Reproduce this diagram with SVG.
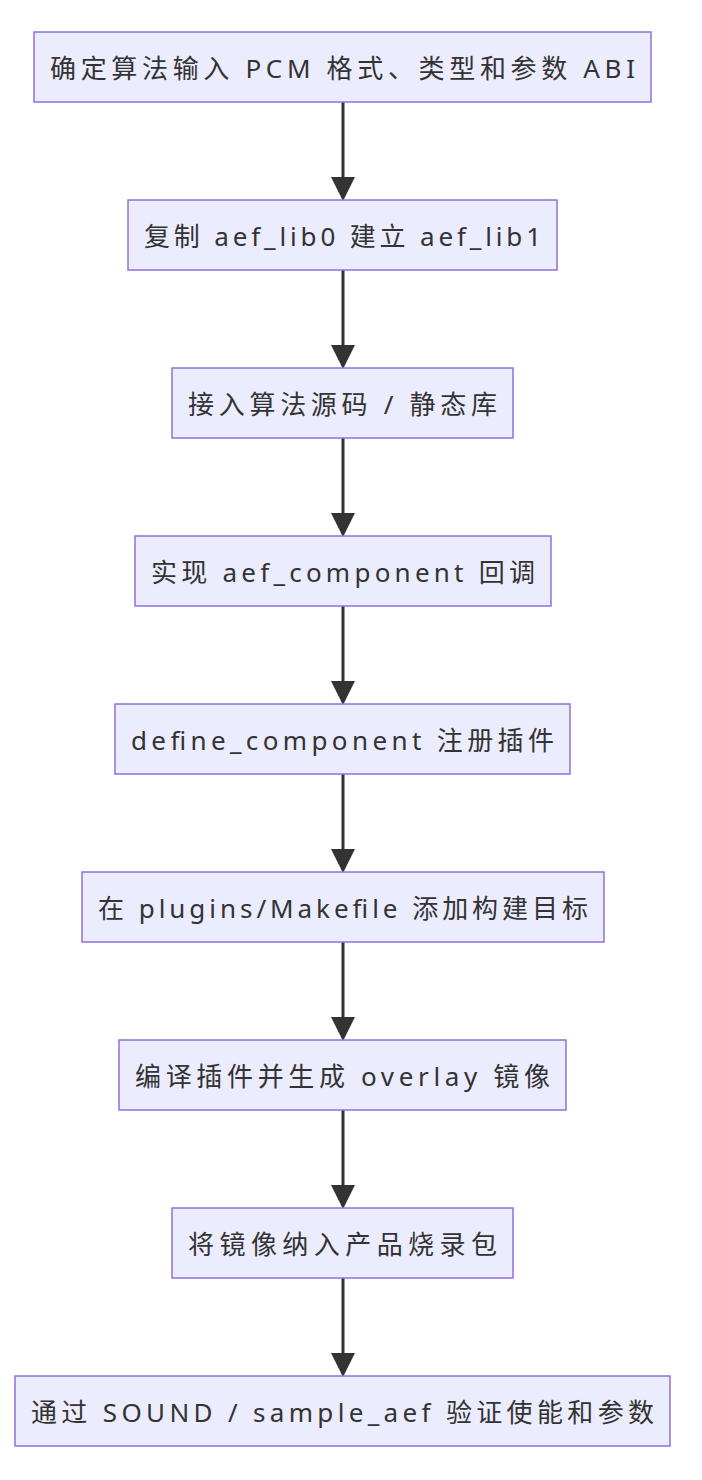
<svg xmlns="http://www.w3.org/2000/svg" width="702" height="1480" viewBox="0 0 702 1480">
<style>
.n rect{fill:#ECECFF;stroke:#9370DB;stroke-width:1.5}
.n text{font-family:"Noto Sans","Noto Sans CJK SC",sans-serif;font-size:26px;fill:#333;text-anchor:middle;dominant-baseline:central}
.e line{stroke:#333;stroke-width:3}
</style>
<defs><marker id="a" markerWidth="8" markerHeight="8" refX="7" refY="4" orient="auto" markerUnits="strokeWidth"><path d="M0,0L8,4L0,8z" fill="#333"/></marker></defs>
<g class="e">
<line x1="343" y1="102" x2="343" y2="198" marker-end="url(#a)"/>
<line x1="343" y1="270" x2="343" y2="366" marker-end="url(#a)"/>
<line x1="343" y1="438" x2="343" y2="534" marker-end="url(#a)"/>
<line x1="343" y1="606" x2="343" y2="702" marker-end="url(#a)"/>
<line x1="343" y1="774" x2="343" y2="870" marker-end="url(#a)"/>
<line x1="343" y1="942" x2="343" y2="1038" marker-end="url(#a)"/>
<line x1="343" y1="1110" x2="343" y2="1206" marker-end="url(#a)"/>
<line x1="343" y1="1278" x2="343" y2="1374" marker-end="url(#a)"/>
</g>
<g id="n1" class="n"><rect x="34" y="32" width="617" height="70"/><text x="342.5" y="68" textLength="585">确定算法输入 PCM 格式、类型和参数 ABI</text></g>
<g id="n2" class="n"><rect x="128" y="200" width="429" height="70"/><text x="342.5" y="236" textLength="397">复制 aef_lib0 建立 aef_lib1</text></g>
<g id="n3" class="n"><rect x="172" y="368" width="341" height="70"/><text x="342.5" y="404" textLength="309">接入算法源码 / 静态库</text></g>
<g id="n4" class="n"><rect x="135" y="536" width="416" height="70"/><text x="343" y="572" textLength="384">实现 aef_component 回调</text></g>
<g id="n5" class="n"><rect x="115" y="704" width="455" height="70"/><text x="342.5" y="740" textLength="423">define_component 注册插件</text></g>
<g id="n6" class="n"><rect x="82" y="872" width="522" height="70"/><text x="343" y="908" textLength="490">在 plugins/Makefile 添加构建目标</text></g>
<g id="n7" class="n"><rect x="119" y="1040" width="447" height="70"/><text x="342.5" y="1076" textLength="415">编译插件并生成 overlay 镜像</text></g>
<g id="n8" class="n"><rect x="172" y="1208" width="341" height="70"/><text x="342.5" y="1244" textLength="309">将镜像纳入产品烧录包</text></g>
<g id="n9" class="n"><rect x="15" y="1376" width="655" height="70"/><text x="342.5" y="1412" textLength="623">通过 SOUND / sample_aef 验证使能和参数</text></g>
</svg>
